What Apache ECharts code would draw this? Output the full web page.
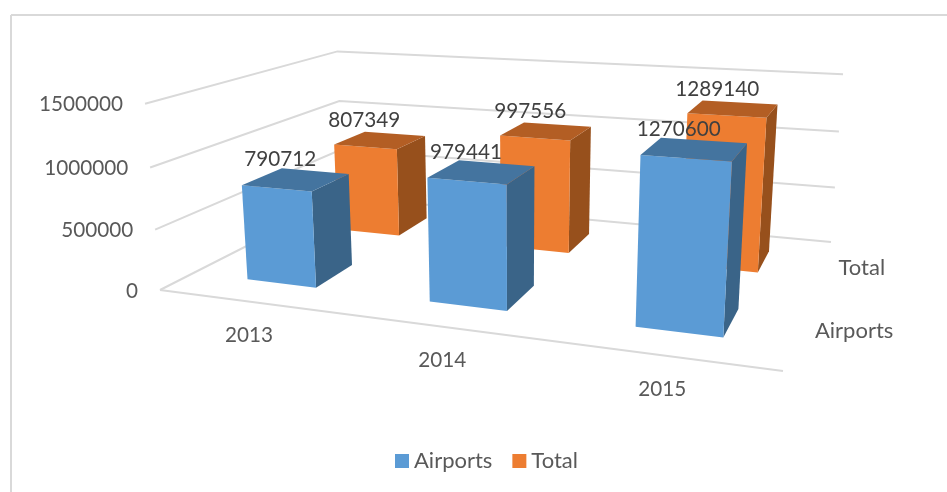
<!DOCTYPE html>
<html>
<head>
<meta charset="utf-8">
<title>Airports and Total</title>
<script src="https://cdn.jsdelivr.net/npm/echarts@6/dist/echarts.min.js"></script>
<style>
  html, body { margin: 0; padding: 0; background: #fff; }
  #chart { width: 947px; height: 492px; }
</style>
</head>
<body>
<div id="chart"></div>
<script>
const categories = ['2013', '2014', '2015']
const depthNames = ['Airports', 'Total']
const airports = [790712, 979441, 1270600]
const total = [807349, 997556, 1289140]
const yTicks = [0, 500000, 1000000, 1500000]

const FONT = 'Lato'
const DIGIT_SIZE = 20.7
const WORD_SIZE = 22
const barHalfWidth = 0.195 // share of a category band
const barShift = 0.012 // bars sit a bit right of the band centre
const barHalfDepth = 0.1

// camera of the 3d box, fitted to the picture. u = along years, v = depth, h = height
const camX = [484.8, 283.8, -20.9, 160]
const camY = [15.5, -35.1, -190.5, 290]
const camW = [-0.1765, 0.294, -0.0408, 1]

function project (u, v, h) {
  const w = camW[0] * u + camW[1] * v + camW[2] * h + camW[3]
  return [
    (camX[0] * u + camX[1] * v + camX[2] * h + camX[3]) / w,
    (camY[0] * u + camY[1] * v + camY[2] * h + camY[3]) / w
  ]
}

function textEl (x, y, text, fill, align, size) {
  return {
    type: 'text',
    style: {
      x: x,
      y: y,
      text: text,
      fill: fill,
      fontFamily: FONT,
      fontSize: size,
      textAlign: align,
      textVerticalAlign: 'middle'
    }
  }
}

function face (points, color) {
  return { type: 'polygon', shape: { points: points }, style: { fill: color } }
}

// a flat grid gives the scales, its pixels are then normalised and projected
function flatU (params, px) {
  return (px - params.coordSys.x) / params.coordSys.width
}
function flatH (params, py) {
  return 1 - (py - params.coordSys.y) / params.coordSys.height
}

function renderBar (depthIndex, colors) {
  return function (params, api) {
    const c = api.coord([api.value(0), api.value(1)])
    const band = api.size([1, 0])[0]
    const u0 = flatU(params, c[0] + band * (barShift - barHalfWidth))
    const u1 = flatU(params, c[0] + band * (barShift + barHalfWidth))
    const v0 = (depthIndex + 0.5) / depthNames.length - barHalfDepth
    const v1 = (depthIndex + 0.5) / depthNames.length + barHalfDepth
    const h = flatH(params, c[1])
    const fl = project(u0, v0, h)
    const fr = project(u1, v0, h)
    const br = project(u1, v1, h)
    const bl = project(u0, v1, h)
    const top = project((u0 + u1) / 2, (v0 + v1) / 2, h)
    return {
      type: 'group',
      children: [
        face([project(u1, v0, 0), fr, br, project(u1, v1, 0)], colors.side),
        face([project(u0, v0, 0), project(u1, v0, 0), fr, fl], colors.front),
        face([fl, fr, br, bl], colors.top),
        textEl(top[0] - 16, top[1] - 20, String(api.value(1)), '#404040', 'center', DIGIT_SIZE)
      ]
    }
  }
}

function renderWall (params, api) {
  const tick = api.value(1)
  const h = flatH(params, api.coord([0, tick])[1])
  const a = project(0, 0, h)
  const b = project(0, 1, h)
  const c = project(1, 1, h)
  const lineStyle = { stroke: '#D9D9D9', lineWidth: 2, fill: 'none' }
  const children = [
    { type: 'polyline', shape: { points: [a, b, c] }, style: lineStyle },
    textEl(a[0] - 22, a[1] + 1, String(tick), '#595959', 'right', DIGIT_SIZE)
  ]
  if (tick === 0) {
    children.push({ type: 'polyline', shape: { points: [a, project(1, 0, 0)] }, style: lineStyle })
  }
  return { type: 'group', children: children }
}

function renderCategoryLabel (params, api) {
  const u = flatU(params, api.coord([api.value(0), 0])[0])
  const p = project(u, 0, 0)
  return textEl(p[0] + 1, p[1] + 34, categories[api.value(0)], '#595959', 'center', DIGIT_SIZE)
}

function renderDepthLabel (params, api) {
  const i = api.value(1)
  const p = project(1, (i + 0.5) / depthNames.length, 0)
  return textEl(p[0] + 17, p[1], depthNames[i], '#595959', 'left', WORD_SIZE)
}

const chart = echarts.init(document.getElementById('chart'))
chart.setOption({
  animation: false,
  backgroundColor: '#fff',
  tooltip: { show: false },
  graphic: [
    { type: 'line', shape: { x1: 11, y1: 15, x2: 947, y2: 15 }, style: { stroke: '#D9D9D9', lineWidth: 2 } },
    { type: 'line', shape: { x1: 11, y1: 15, x2: 11, y2: 492 }, style: { stroke: '#D9D9D9', lineWidth: 2 } }
  ],
  legend: {
    data: depthNames,
    left: 390,
    top: 445,
    icon: 'rect',
    itemWidth: 14,
    itemHeight: 14,
    itemGap: 20,
    textStyle: { color: '#595959', fontFamily: FONT, fontSize: WORD_SIZE }
  },
  grid: { left: 100, top: 100, width: 600, height: 300, show: false },
  xAxis: { type: 'category', data: categories, show: false },
  yAxis: { type: 'value', min: 0, max: 1500000, interval: 500000, show: false },
  series: [
    {
      type: 'custom',
      name: 'wall',
      silent: true,
      renderItem: renderWall,
      data: yTicks.map(t => [0, t]),
      z: 1
    },
    {
      type: 'custom',
      name: 'categoryLabels',
      silent: true,
      renderItem: renderCategoryLabel,
      data: categories.map((c, i) => [i, 0]),
      z: 1
    },
    {
      type: 'custom',
      name: 'depthLabels',
      silent: true,
      renderItem: renderDepthLabel,
      data: depthNames.map((n, i) => [0, i]),
      encode: { x: 0, y: 1 },
      z: 1
    },
    {
      type: 'custom',
      name: 'Total',
      itemStyle: { color: '#ED7D31' },
      renderItem: renderBar(1, { front: '#ED7D31', top: '#B35E24', side: '#97501C' }),
      data: total.map((v, i) => [i, v]),
      z: 2
    },
    {
      type: 'custom',
      name: 'Airports',
      itemStyle: { color: '#5B9BD5' },
      renderItem: renderBar(0, { front: '#5B9BD5', top: '#44749F', side: '#3A6488' }),
      data: airports.map((v, i) => [i, v]),
      z: 3
    }
  ]
})
</script>
</body>
</html>
